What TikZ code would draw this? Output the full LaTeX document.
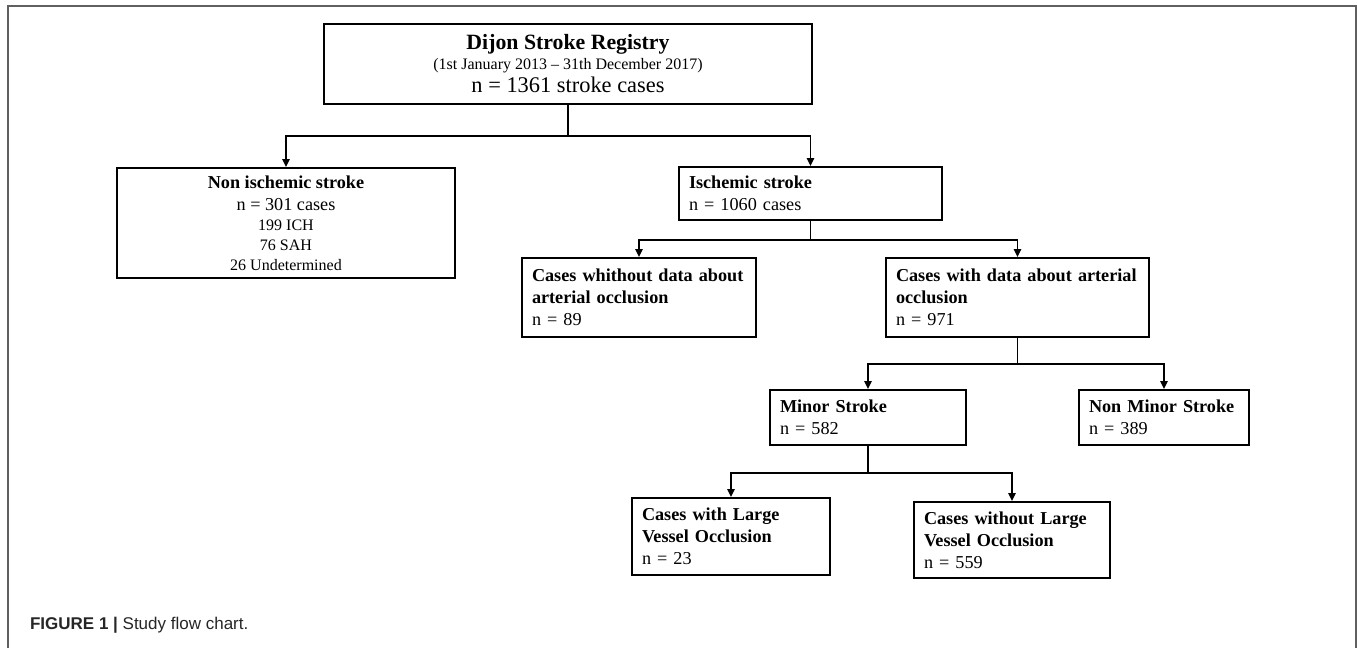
\documentclass[tikz,border=0pt]{standalone}
\usepackage{fontspec}
\setmainfont{Liberation Serif}
\newfontfamily\capfont{Liberation Sans}
\usetikzlibrary{arrows.meta,positioning}

\tikzset{
  box/.style={draw, line width=0.9pt, inner xsep=5pt, inner ysep=2pt, align=left, font=\fontsize{9.1}{11}\selectfont},
  flow/.style={line width=0.8pt},
  arr/.style={flow, -{Triangle[length=4pt,width=3.6pt]}},
}

\begin{document}
\begin{tikzpicture}[x=0.5pt,y=-0.5pt]
    \useasboundingbox (0,0) rectangle (1357,648);
    \draw[gray!75!black, line width=1pt] (7.5,648) -- (7.5,6) -- (1355.5,6) -- (1355.5,648);

    \node[box, align=center, minimum width=244pt, minimum height=40pt] (registry) at (568,64)
      {{\fontsize{10.9}{12}\selectfont\bfseries Dijon Stroke Registry}\\[-1pt]
       {\fontsize{8}{10}\selectfont (1st January 2013 -- 31th December 2017)}\\[0.5pt]
       {\fontsize{11.2}{12}\selectfont n = 1361 stroke cases}};
    \node[box, align=center, minimum width=169pt, minimum height=55pt] (nonisch) at (286,223)
      {\textbf{Non ischemic stroke}\\
       n = 301 cases\\[-1pt]
       {\fontsize{8}{9.5}\selectfont 199 ICH}\\[-1pt]
       {\fontsize{8}{9.5}\selectfont 76 SAH}\\[-1pt]
       {\fontsize{8}{9.5}\selectfont 26 Undetermined}};
    \node[box, text width=121.5pt, minimum height=26.5pt] (isch) at (810.5,193.5)
      {\textbf{Ischemic stroke}\\ n = 1060 cases};
    \node[box, text width=107pt, minimum height=39.5pt] (nodata) at (639,297.5)
      {\mbox{\textbf{Cases whithout data about}}\\ \textbf{arterial occlusion}\\ n = 89};
    \node[box, text width=121.5pt, minimum height=39.5pt] (withdata) at (1017.5,297.5)
      {\mbox{\textbf{Cases with data about arterial}}\\ \textbf{occlusion}\\ n = 971};
    \node[box, text width=88pt, minimum height=27.5pt] (minor) at (868,417.5)
      {\textbf{Minor Stroke}\\ n = 582};
    \node[box, text width=75pt, minimum height=27.5pt] (nonminor) at (1164,417.5)
      {\mbox{\textbf{Non Minor Stroke}}\\ n = 389};
    \node[box, text width=89pt, minimum height=38.5pt] (withlvo) at (731,536.5)
      {\textbf{Cases with Large}\\ \textbf{Vessel Occlusion}\\ n = 23};
    \node[box, text width=88pt, minimum height=38pt] (withoutlvo) at (1012,540)
      {\mbox{\textbf{Cases without Large}}\\ \textbf{Vessel Occlusion}\\ n = 559};

    % connectors
    \draw[flow] (registry.south) -- ++(0,31) coordinate (split1);
    \draw[arr] (split1) -| (nonisch.north);
    \draw[arr] (split1) -| (isch.north);
    \draw[flow] (isch.south) -- ++(0,19) coordinate (split2);
    \draw[arr] (split2) -| (nodata.north);
    \draw[arr] (split2) -| (withdata.north);
    \draw[flow] (withdata.south) -- ++(0,26) coordinate (split3);
    \draw[arr] (split3) -| (minor.north);
    \draw[arr] (split3) -| (nonminor.north);
    \draw[flow, line width=1.4pt] (minor.south) -- ++(0,27) coordinate (split4);
    \draw[arr] (split4) -| (withlvo.north);
    \draw[arr] (split4) -| (withoutlvo.north);

    \node[anchor=west, text=black!85, font=\capfont\fontsize{8.5}{10}\selectfont] (caption) at (23,625)
      {\textbf{FIGURE 1 |} Study flow chart.};
\end{tikzpicture}
\end{document}
